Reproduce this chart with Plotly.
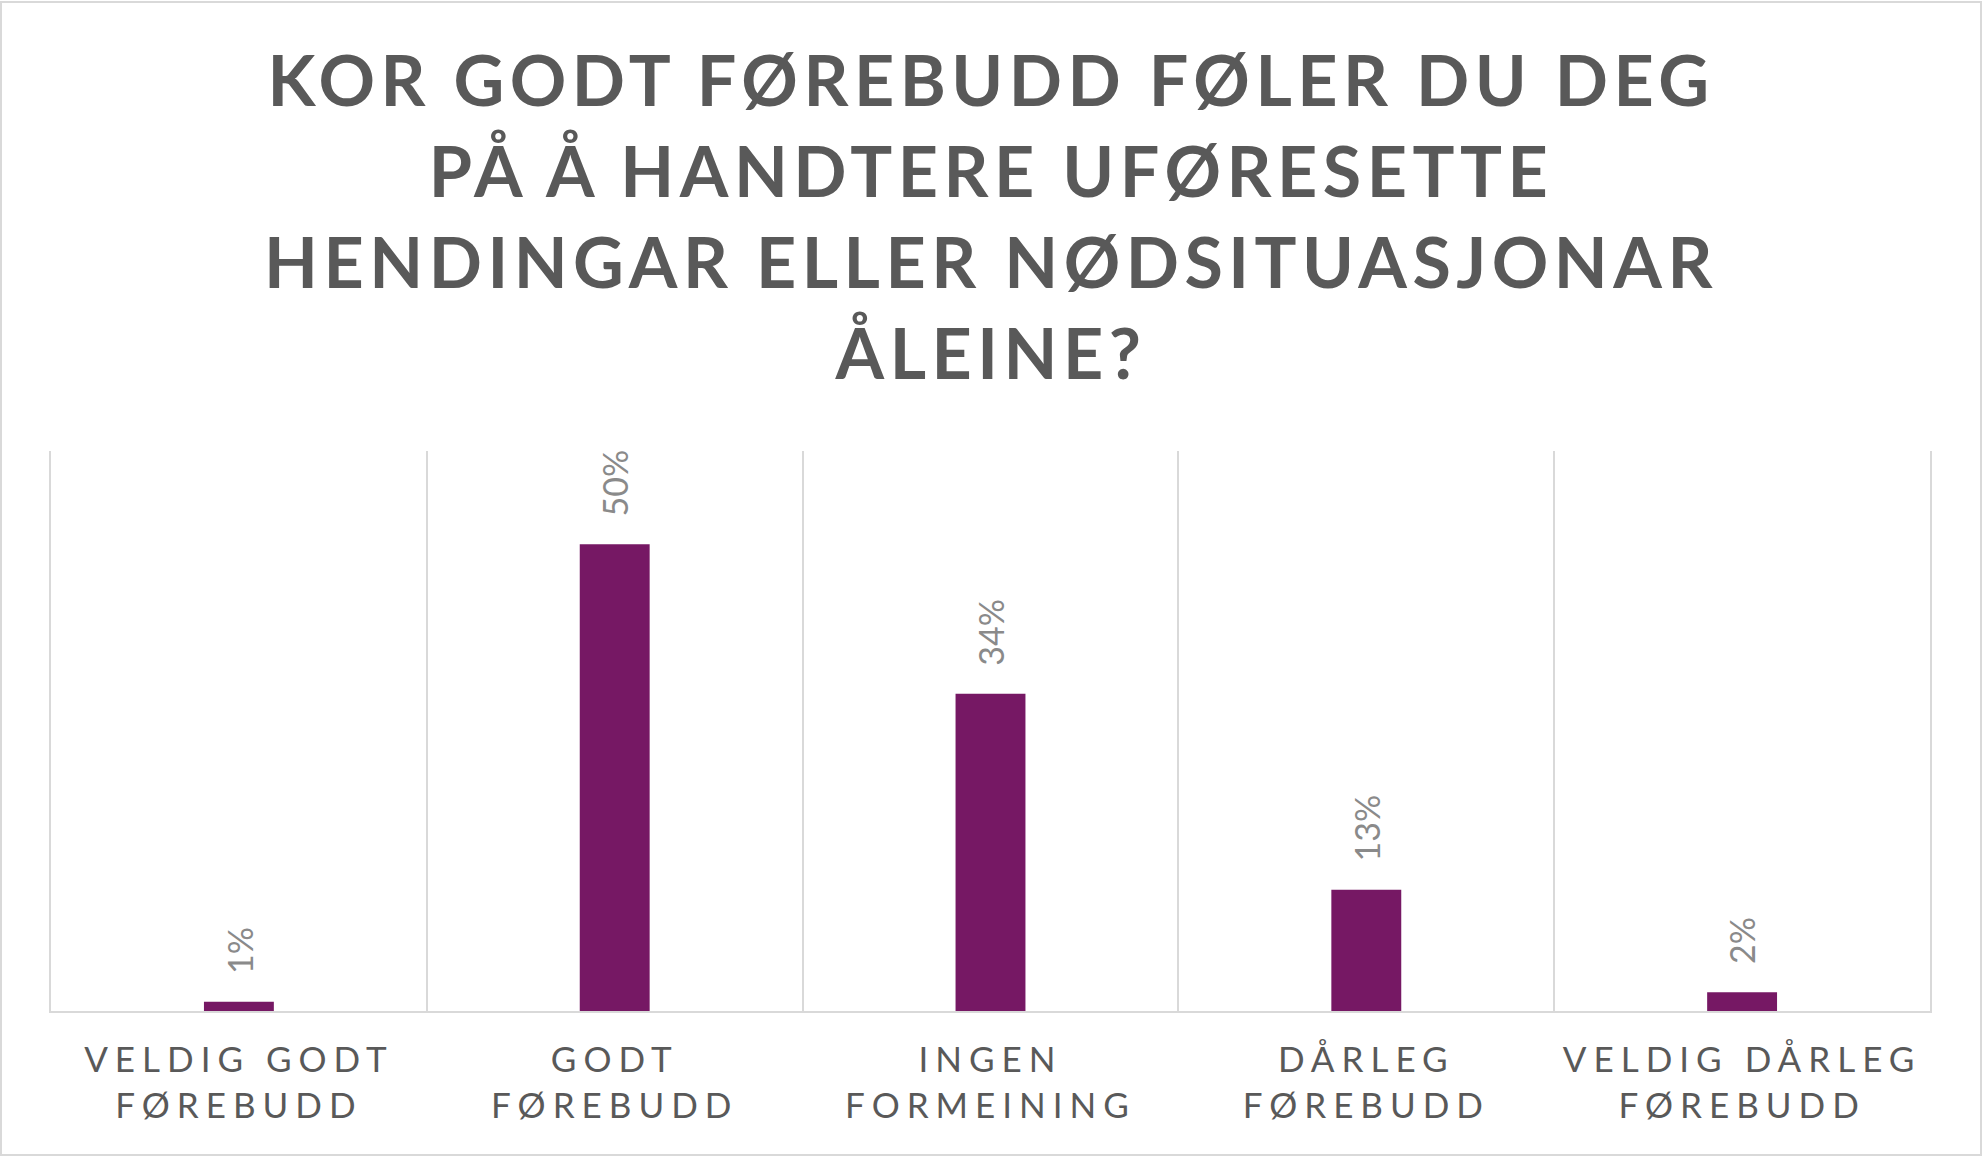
import plotly.graph_objects as go

categories = [
    "VELDIG GODT<br>FØREBUDD",
    "GODT<br>FØREBUDD",
    "INGEN<br>FORMEINING",
    "DÅRLEG<br>FØREBUDD",
    "VELDIG DÅRLEG<br>FØREBUDD",
]
values = [0.01, 0.50, 0.34, 0.13, 0.02]
value_labels = ["1%", "50%", "34%", "13%", "2%"]

title_text = ("KOR GODT FØREBUDD FØLER DU DEG<br>PÅ Å HANDTERE UFØRESETTE<br>"
              "HENDINGAR ELLER NØDSITUASJONAR<br>ÅLEINE?")

W, H = 1982, 1157
L, R, T, B = 51, 52, 451, 146

BAR = "#761864"
GRID = "#d9d9d9"
TXT = "#595959"
LBL = "#8a8a8a"

fig = go.Figure()
fig.add_trace(go.Bar(
    x=categories, y=values, marker=dict(color=BAR, line=dict(width=0)),
    width=0.186, hoverinfo="skip",
))

for c, v, t in zip(categories, values, value_labels):
    fig.add_annotation(
        x=c, y=v, text=t, textangle=-90, showarrow=False,
        xanchor="center", yanchor="bottom", yshift=26,
        font=dict(family="Lato, DejaVu Sans, sans-serif", size=34, color=LBL),
    )

pw = W - L - R
ph = H - T - B
fig.add_shape(
    type="rect", xref="paper", yref="paper",
    x0=(-L + 1) / pw, x1=(W - L - 1) / pw,
    y0=(-B + 2) / ph, y1=(H - B - 2) / ph,
    line=dict(color=GRID, width=2), fillcolor="rgba(0,0,0,0)", layer="below",
)

fig.update_layout(
    width=W, height=H,
    margin=dict(l=L, r=R, t=T, b=B),
    paper_bgcolor="white", plot_bgcolor="white",
    showlegend=False,
    title=dict(
        text=title_text, x=0.5, xanchor="center",
        yref="container", y=1 - 106 / H, yanchor="top",
        font=dict(family="Lato, DejaVu Sans, sans-serif", size=70, color=TXT, weight="bold"),
    ),
    xaxis=dict(
        tickson="boundaries", showgrid=True, gridcolor=GRID, gridwidth=2,
        showline=True, linecolor=GRID, linewidth=2, ticks="",
        tickfont=dict(family="Lato, DejaVu Sans, sans-serif", size=35, color=TXT),
        ticklabelstandoff=17,
    ),
    yaxis=dict(
        range=[0, 0.6], showgrid=False, zeroline=False, showticklabels=False,
        showline=True, mirror=True, linecolor=GRID, linewidth=2, ticks="",
    ),
)

css = (".xtick text{letter-spacing:7px;} "
       ".gtitle{letter-spacing:5.5px;}")
post = ("var s=document.createElement('style');s.textContent='" + css +
        "';document.head.appendChild(s);")

fig.write_html("out.html", post_script=post)
